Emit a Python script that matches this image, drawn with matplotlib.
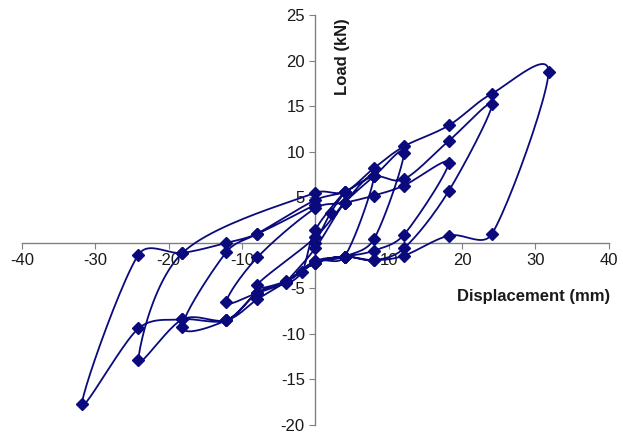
import numpy as np
import matplotlib
matplotlib.use('Agg')
import matplotlib.pyplot as plt

plt.rcParams['font.family'] = ['Liberation Sans', 'DejaVu Sans']

# displacement (mm) / load (kN), cycle by cycle
disp_c4 = [0.0, 2.1, 4.0, 0.0, -1.8, -4.0, 0.0]
load_c4 = [0.0, 3.3, 5.6, 1.4, -3.2, -4.4, -0.6]

disp_c8 = [4.0, 8.0, 4.0, 0.0, -4.0, -7.9, 0.0]
load_c8 = [4.4, 7.3, -1.5, -2.0, -4.2, -4.6, 0.6]

disp_c12 = [4.0, 8.0, 12.1, 8.0, 4.0, 0.0, -4.0, -7.9, -12.1, -7.9, 0.0]
load_c12 = [4.4, 7.3, 9.9, 0.4, -1.5, -2.2, -4.3, -5.5, -6.5, -1.6, 3.8]

disp_c18 = [4.0, 8.0, 12.1, 18.2, 12.1, 8.0, 4.0, 0.0, -4.0, -7.9, -12.1, -18.1, -12.1, -7.9, 0.0]
load_c18 = [4.4, 5.2, 6.3, 8.8, 0.9, -0.85, -1.5, -2.0, -4.3, -5.5, -8.5, -9.2, -1.0, 1.0, 4.7]

disp_c24 = [4.0, 8.0, 12.1, 18.2, 24.1, 18.2, 12.1, 8.0, 4.0, 0.0, -4.0, -7.9, -12.1, -18.1, -24.1, -18.1, 0.0]
load_c24 = [5.6, 7.3, 7.0, 11.2, 15.2, 5.7, -0.6, -1.9, -1.5, -2.2, -4.3, -6.2, -8.5, -8.4, -12.9, -1.1, 5.5]

disp_c32 = [4.0, 8.0, 12.1, 18.2, 24.1, 31.8, 24.1, 18.2, 12.1, 8.0, 4.0, 0.0, -4.0, -7.9, -12.1,
            -18.1, -24.1, -31.8, -24.1, -18.1, -12.1, -7.9, 0.0]
load_c32 = [5.6, 8.2, 10.6, 12.9, 16.4, 18.8, 1.0, 0.8, -1.4, -1.9, -1.5, -2.2, -4.3, -5.5, -8.5,
            -8.4, -9.4, -17.7, -1.3, -1.1, 0.0, 1.0, 4.2]

xticks = [-40, -30, -20, -10, 10, 20, 30, 40]
yticks = [-20, -15, -10, -5, 5, 10, 15, 20, 25]

disp = np.array(disp_c4 + disp_c8 + disp_c12 + disp_c18 + disp_c24 + disp_c32)
load = np.array(load_c4 + load_c8 + load_c12 + load_c18 + load_c24 + load_c32)


def smooth(x, y, n=24, sx=7.31, sy=9.1):
    # excel-like smoothed line, worked out in screen units so the arms are not skewed
    p = np.column_stack([np.asarray(x) * sx, np.asarray(y) * sy])
    p = np.vstack([p[0], p, p[-1]])
    out = []
    t = np.linspace(0, 1, n, endpoint=False)[:, None]
    for i in range(1, len(p) - 2):
        p0, p1, p2, p3 = p[i - 1], p[i], p[i + 1], p[i + 2]
        L = np.hypot(*(p2 - p1))
        a1 = (p2 - p0) / 6
        a2 = (p3 - p1) / 6
        # keep the control arms short so the curve does not swing too far
        for a in (a1, a2):
            la = np.hypot(*a)
            if la > 0.4 * L and la > 0:
                a *= 0.4 * L / la
        c1 = p1 + a1
        c2 = p2 - a2
        seg = ((1 - t) ** 3) * p1 + 3 * ((1 - t) ** 2) * t * c1 + 3 * (1 - t) * t ** 2 * c2 + t ** 3 * p2
        out.append(seg)
    out.append(p[-2][None, :])
    out = np.vstack(out)
    return out[:, 0] / sx, out[:, 1] / sy


fig = plt.figure(figsize=(6.23, 4.42), dpi=100)
ax = fig.add_axes([0.035, 0.0385, 0.942, 0.927])

col = '#0a0a7c'
sx_, sy_ = smooth(disp, load)
ax.plot(sx_, sy_, color=col, lw=1.3, zorder=3)
ax.plot(disp, load, ls='none', marker='D', ms=6.5, color=col, zorder=4)

ax.set_xlim(-40, 40)
ax.set_ylim(-20, 25)
ax.spines['left'].set_position(('data', 0))
ax.spines['bottom'].set_position(('data', 0))
ax.spines['right'].set_visible(False)
ax.spines['top'].set_visible(False)
for s in ['left', 'bottom']:
    ax.spines[s].set_color('#808080')
    ax.spines[s].set_linewidth(1.0)
ax.set_xticks(xticks)
ax.set_yticks(yticks)
ax.set_xticklabels([str(v) for v in xticks])
ax.set_yticklabels([str(v) for v in yticks])
ax.tick_params(direction='out', length=4, color='#808080', labelsize=12, labelcolor='#1a1a1a')

ax.text(3.7, 20.5, 'Load (kN)', rotation=90, ha='center', va='center',
        fontsize=12, fontweight='bold', color='#1a1a1a')
ax.text(29.7, -5.9, 'Displacement (mm)', ha='center', va='center',
        fontsize=12, fontweight='bold', color='#1a1a1a')

fig.savefig('out.png', dpi=100)
